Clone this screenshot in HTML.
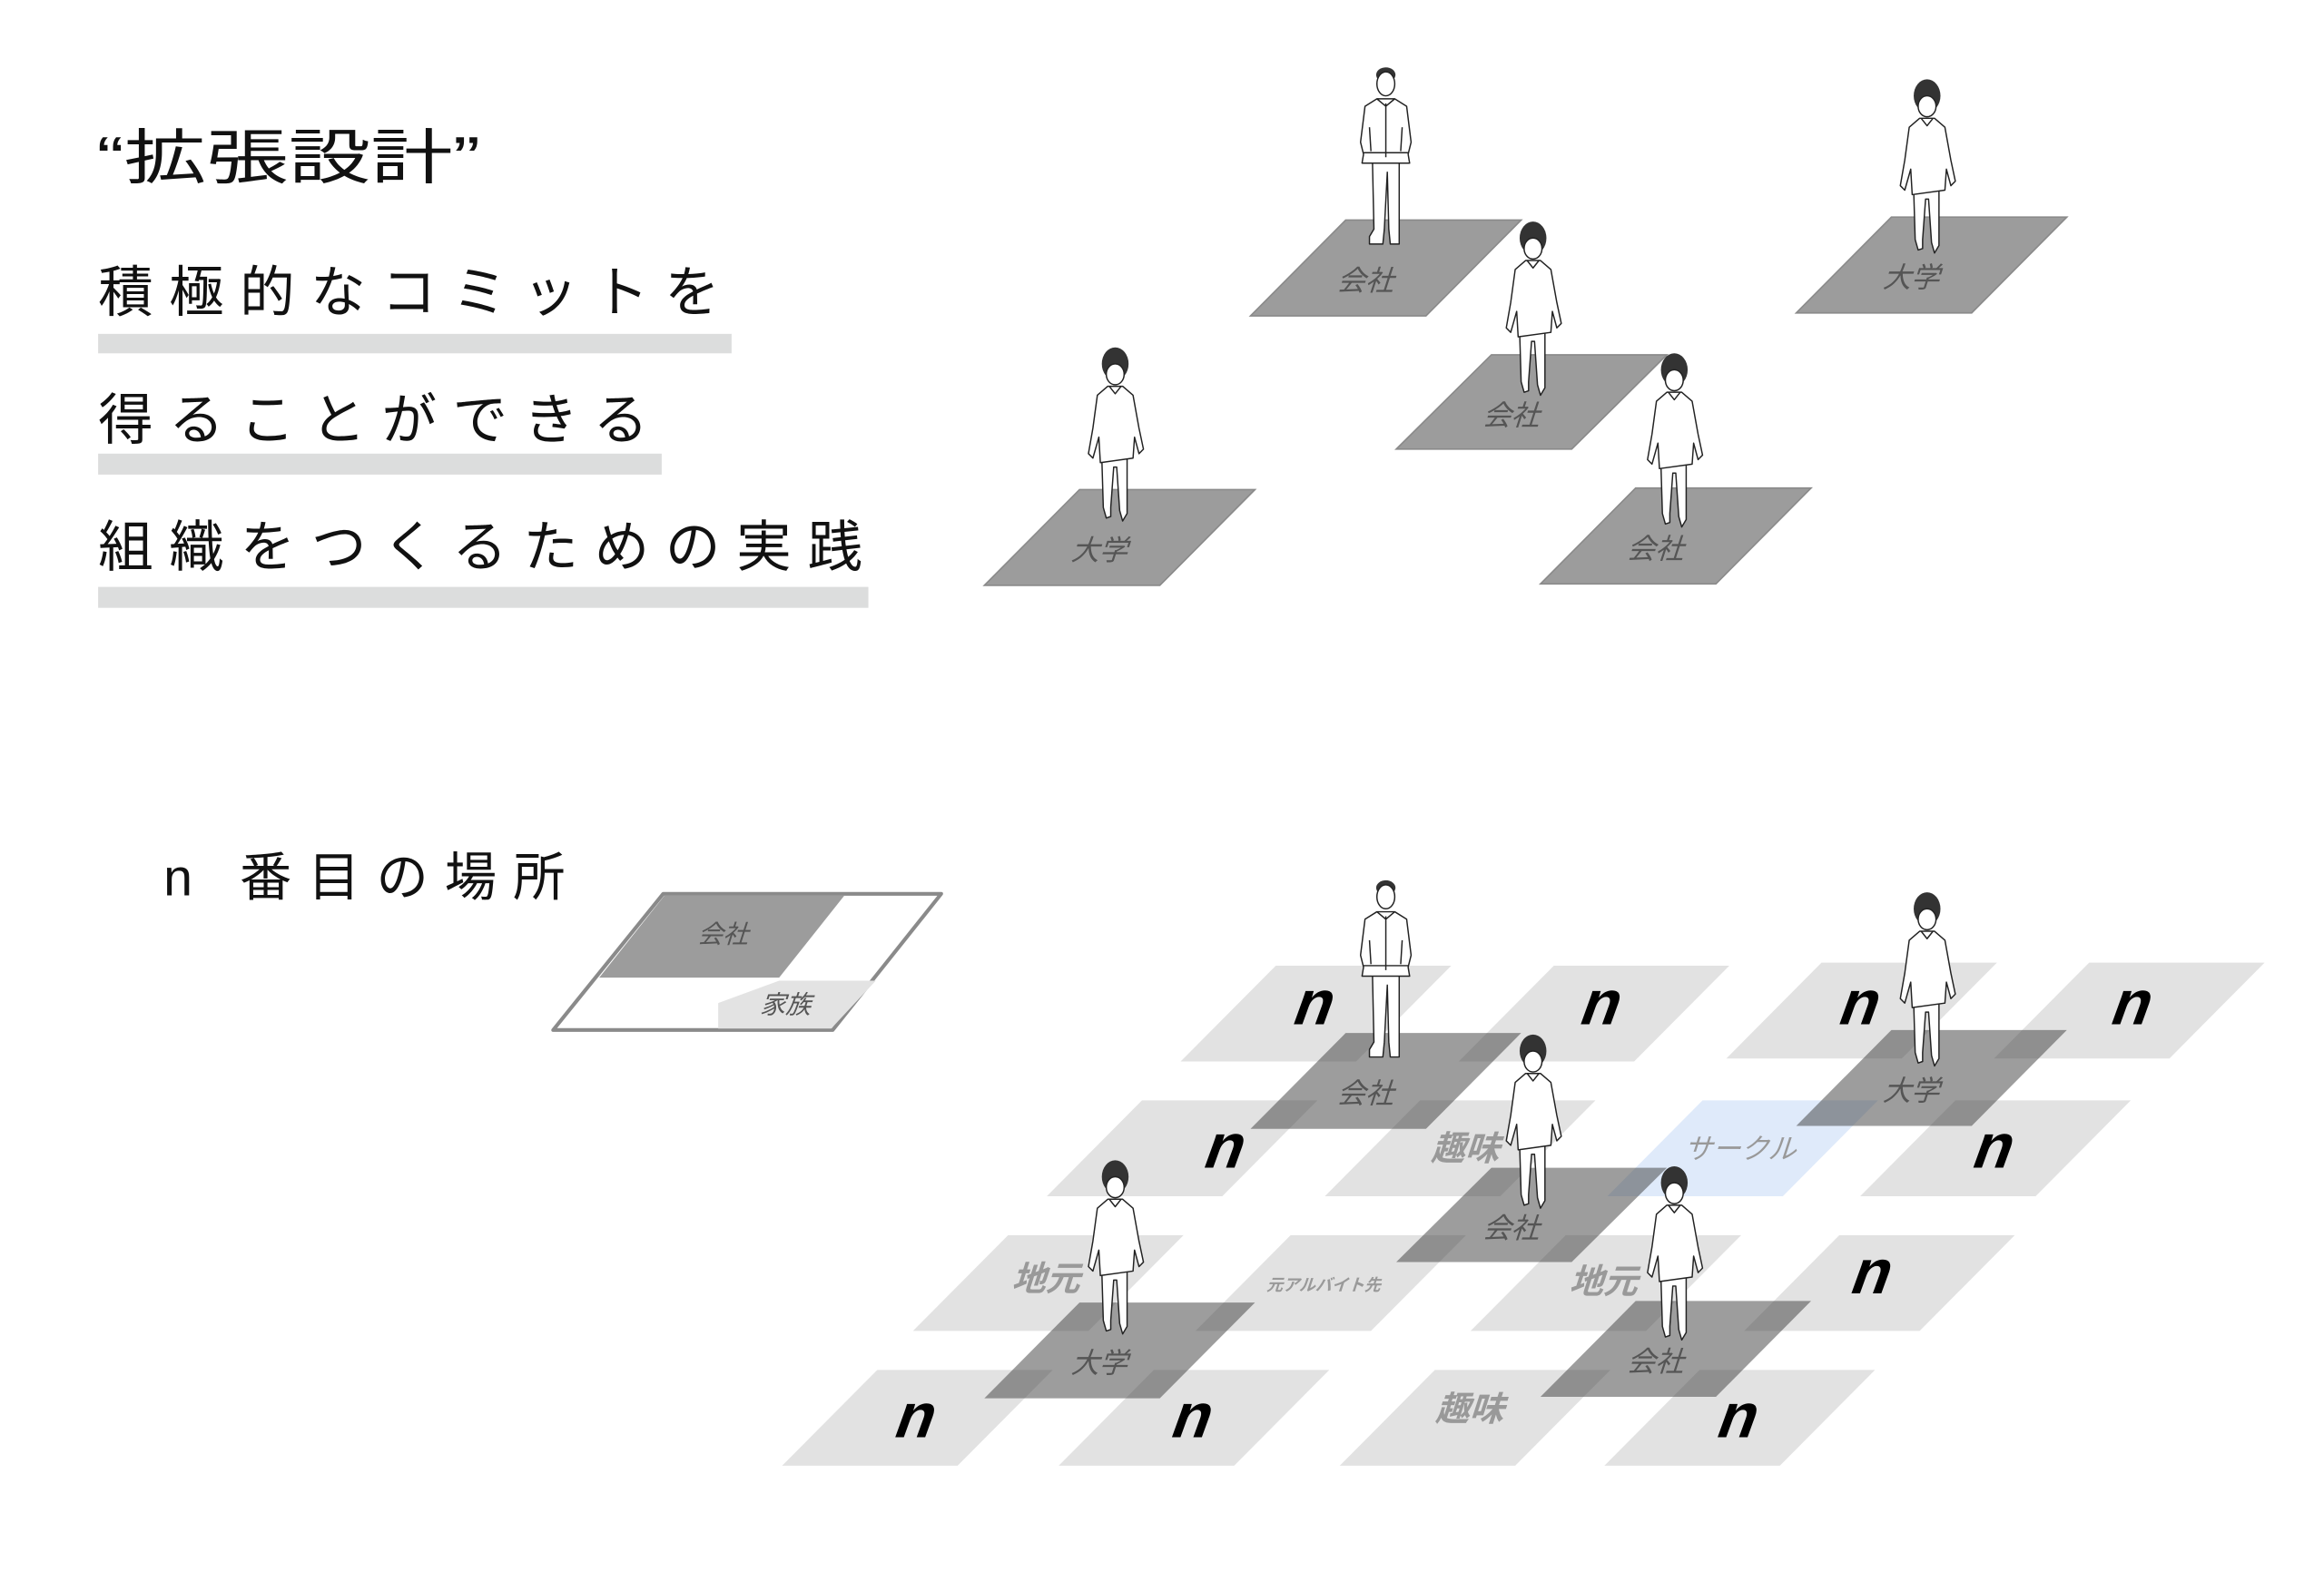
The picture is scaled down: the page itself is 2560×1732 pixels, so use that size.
<!DOCTYPE html>
<html><head><meta charset="utf-8"><style>
html,body{margin:0;padding:0;background:#fff;}
svg{display:block;}
.jp{font-family:"Liberation Sans","Noto Sans CJK JP",sans-serif;}
</style></head><body>
<svg width="2560" height="1732" viewBox="0 0 1552 1050" preserveAspectRatio="none" xmlns="http://www.w3.org/2000/svg">
<defs>
<g id="walker" stroke="#222" stroke-width="0.9" stroke-linejoin="round">
  <path d="M-9,60 L-8,93 L-6,100 L-3,99 L-3,93 L-1,66 L1,66 L3,95 L5,102 L8,97 L8,60 Z" fill="#fff"/>
  <path d="M-5,12 L5,12 L12,18 L16,40 L19,54 L16,57 L13,46 L12,60 L-10,63 L-11,46 L-15,60 L-18,57 L-15,40 L-12,18 Z" fill="#fff"/>
  <path d="M-4,12 L0,17 L4,12" fill="none"/>
  <ellipse cx="0" cy="-3" rx="9" ry="11" fill="#333" stroke="none"/>
  <ellipse cx="0" cy="4" rx="6" ry="7" fill="#fff"/>
</g>
<g id="jacket" stroke="#222" stroke-width="0.9" stroke-linejoin="round">
  <path d="M-9,52 L-8,98 L-11,103 L-11,108 L-2,108 L-1,98 L1,60 L2,98 L3,108 L9,108 L9,98 L9,52 Z" fill="#fff"/>
  <path d="M-6,11 L6,11 L14,16 L17,40 L15,48 L16,54 L-16,54 L-15,48 L-17,40 L-14,16 Z" fill="#fff"/>
  <path d="M0,14 L0,50 M-15,47 L15,47 M-6,11 L0,16 L6,11 M-11,30 L-10,46 M11,30 L10,46" fill="none"/>
  <ellipse cx="0" cy="-5" rx="6.5" ry="5" fill="#333" stroke="none"/>
  <ellipse cx="0" cy="1" rx="6" ry="8" fill="#fff"/>
</g>
</defs>
<g transform="scale(0.993,1)">
<!-- Title and text -->
<g class="jp" fill="#111">
  <text x="65" y="119" font-size="40" textLength="258" lengthAdjust="spacingAndGlyphs">“拡張設計”</text>
  <text x="66" y="208" font-size="37" textLength="418" lengthAdjust="spacing">積極的なコミットを</text>
  <text x="66" y="293" font-size="37" textLength="370" lengthAdjust="spacing">得ることができる</text>
  <text x="66" y="378" font-size="37" textLength="514" lengthAdjust="spacing">組織をつくるための実践</text>
  <text x="110" y="598" font-size="35" textLength="270" lengthAdjust="spacing">n 番目の場所</text>
</g>
<rect x="66" y="223" width="426" height="13" fill="#dcdddd"/>
<rect x="66" y="303" width="379" height="14" fill="#dcdddd"/>
<rect x="66" y="392" width="518" height="14" fill="#dcdddd"/>

<!-- Top section dark tiles -->
<g fill="#9c9c9c" stroke="#8a8a8a" stroke-width="1">
  <polygon points="905,147 1023,147 959,211 841,211"/>
  <polygon points="1272,145 1390,145 1326,209 1208,209"/>
  <polygon points="1003,237 1121,237 1057,300 939,300"/>
  <polygon points="1100,326 1218,326 1154,390 1036,390"/>
  <polygon points="726,327 844,327 780,391 662,391"/>
</g>
<g class="jp" fill="#555" font-size="19">
  <text transform="translate(918,194) skewX(-18)" text-anchor="middle">会社</text>
  <text transform="translate(1285,192) skewX(-18)" text-anchor="middle">大学</text>
  <text transform="translate(1016,284) skewX(-18)" text-anchor="middle">会社</text>
  <text transform="translate(1113,373) skewX(-18)" text-anchor="middle">会社</text>
  <text transform="translate(739,374) skewX(-18)" text-anchor="middle">大学</text>
</g>
<use href="#jacket" x="932" y="55"/>
<use href="#walker" x="1296" y="67"/>
<use href="#walker" x="1031" y="162"/>
<use href="#walker" x="750" y="246"/>
<use href="#walker" x="1126" y="250"/>

<!-- Legend -->
<polygon points="446,597 633,597 560,688 372,688" fill="#fff" stroke="#8a8a8a" stroke-width="2.5" stroke-linejoin="round"/>
<polygon points="447,598 568,598 524,653 403,653" fill="#9c9c9c"/>
<polygon points="524,655 589,655 559,687 483,687 483,670" fill="#e3e3e3"/>
<g class="jp" fill="#555" font-size="17">
  <text transform="translate(486,630) skewX(-18)" text-anchor="middle">会社</text>
  <text transform="translate(528,677) skewX(-18)" text-anchor="middle">家族</text>
</g>

<!-- Bottom light tiles -->
<g fill="#e2e2e2">
  <polygon points="858,645 976,645 912,709 794,709"/>
  <polygon points="1045,645 1163,645 1099,709 981,709"/>
  <polygon points="1225,643 1343,643 1279,707 1161,707"/>
  <polygon points="1405,643 1523,643 1459,707 1341,707"/>
  <polygon points="768,735 886,735 822,799 704,799"/>
  <polygon points="955,735 1073,735 1009,799 891,799"/>
  <polygon points="1315,735 1433,735 1369,799 1251,799"/>
  <polygon points="678,825 796,825 732,889 614,889"/>
  <polygon points="868,825 986,825 922,889 804,889"/>
  <polygon points="1053,825 1171,825 1107,889 989,889"/>
  <polygon points="1237,825 1355,825 1291,889 1173,889"/>
  <polygon points="590,915 708,915 644,979 526,979"/>
  <polygon points="776,915 894,915 830,979 712,979"/>
  <polygon points="965,915 1083,915 1019,979 901,979"/>
  <polygon points="1143,915 1261,915 1197,979 1079,979"/>
</g>
<polygon points="1145,735 1263,735 1199,799 1081,799" fill="#dfeafa"/>

<!-- Bottom dark tiles (translucent) -->
<g fill="rgba(60,60,60,0.5)">
  <polygon points="905,690 1023,690 959,754 841,754"/>
  <polygon points="1272,688 1390,688 1326,752 1208,752"/>
  <polygon points="1003,780 1121,780 1057,843 939,843"/>
  <polygon points="1100,869 1218,869 1154,933 1036,933"/>
  <polygon points="726,870 844,870 780,934 662,934"/>
</g>
<g class="jp" fill="#555" font-size="19">
  <text transform="translate(918,737) skewX(-18)" text-anchor="middle">会社</text>
  <text transform="translate(1285,735) skewX(-18)" text-anchor="middle">大学</text>
  <text transform="translate(1016,827) skewX(-18)" text-anchor="middle">会社</text>
  <text transform="translate(1113,916) skewX(-18)" text-anchor="middle">会社</text>
  <text transform="translate(739,917) skewX(-18)" text-anchor="middle">大学</text>
</g>
<!-- light labels -->
<g class="jp" fill="#999" font-size="23" font-weight="bold">
  <text transform="translate(985,775) skewX(-18)" text-anchor="middle">趣味</text>
  <text transform="translate(703,862) skewX(-18)" text-anchor="middle">地元</text>
  <text transform="translate(1078,864) skewX(-18)" text-anchor="middle">地元</text>
  <text transform="translate(988,949) skewX(-18)" text-anchor="middle">趣味</text>
  <text transform="translate(890,862) skewX(-18)" text-anchor="middle" font-size="11">元アルバイト先</text>
  <text transform="translate(1170,774) skewX(-18)" text-anchor="middle" font-size="19" font-weight="normal" fill="#999">サークル</text>
</g>
<g font-family="Liberation Sans, sans-serif" font-weight="bold" font-size="42" fill="#000" text-anchor="middle">
  <text transform="translate(880,684) skewX(-20)">n</text>
  <text transform="translate(1073,684) skewX(-20)">n</text>
  <text transform="translate(1247,684) skewX(-20)">n</text>
  <text transform="translate(1430,684) skewX(-20)">n</text>
  <text transform="translate(820,780) skewX(-20)">n</text>
  <text transform="translate(1337,780) skewX(-20)">n</text>
  <text transform="translate(1255,864) skewX(-20)">n</text>
  <text transform="translate(612,960) skewX(-20)">n</text>
  <text transform="translate(798,960) skewX(-20)">n</text>
  <text transform="translate(1165,960) skewX(-20)">n</text>
</g>
<use href="#jacket" x="932" y="598"/>
<use href="#walker" x="1296" y="610"/>
<use href="#walker" x="1031" y="705"/>
<use href="#walker" x="750" y="789"/>
<use href="#walker" x="1126" y="793"/>
</g>
</svg>
</body></html>
